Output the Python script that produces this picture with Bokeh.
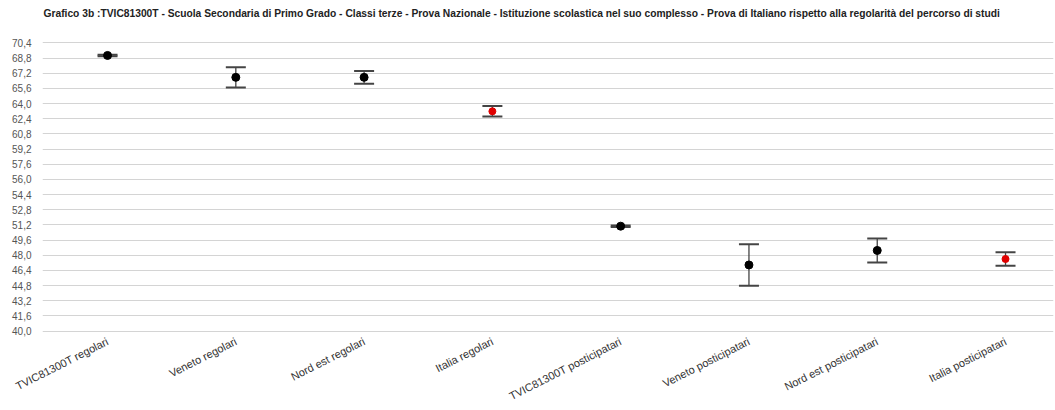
from bokeh.plotting import figure
from bokeh.models import ColumnDataSource, Whisker, TeeHead, FixedTicker, Range1d, Title
from bokeh.embed import file_html
from bokeh.resources import INLINE

categories = ["TVIC81300T regolari", "Veneto regolari", "Nord est regolari", "Italia regolari",
              "TVIC81300T posticipatari", "Veneto posticipatari", "Nord est posticipatari",
              "Italia posticipatari"]
means = [69.07, 66.76, 66.76, 63.18, 51.07, 46.98, 48.51, 47.61]
err = [0.08, 1.06, 0.67, 0.56, 0.08, 2.18, 1.26, 0.70]
is_italia = [False, False, False, True, False, False, False, True]

y_ticks = [40.0, 41.6, 43.2, 44.8, 46.4, 48.0, 49.6, 51.2, 52.8, 54.4, 56.0,
           57.6, 59.2, 60.8, 62.4, 64.0, 65.6, 67.2, 68.8, 70.4]
y_labels = ["40,0", "41,6", "43,2", "44,8", "46,4", "48,0", "49,6", "51,2", "52,8", "54,4",
            "56,0", "57,6", "59,2", "60,8", "62,4", "64,0", "65,6", "67,2", "68,8", "70,4"]

title = ("Grafico 3b :TVIC81300T - Scuola Secondaria di Primo Grado - Classi terze - Prova Nazionale - "
         "Istituzione scolastica nel suo complesso - Prova di Italiano rispetto alla regolarità del percorso di studi")

xs = list(range(len(categories)))
src = ColumnDataSource(dict(
    x=xs, y=means,
    upper=[m + e for m, e in zip(means, err)],
    lower=[m - e for m, e in zip(means, err)],
    color=["#e00000" if it else "#000000" for it in is_italia],
    size=[7 if it else 8 for it in is_italia],
))

p = figure(width=1055, height=410, output_backend="svg", toolbar_location=None,
           x_range=Range1d(-0.507, 7.374), y_range=Range1d(39.86, 70.54),
           min_border_left=42, min_border_right=2, min_border_top=41, min_border_bottom=77,
           title_location=None)
p.outline_line_color = None
p.background_fill_color = "white"

# spacer panel between frame and title (pushes title upward)
p.add_layout(Title(text=" ", text_font_size="2px", standoff=16), "above")
p.add_layout(Title(text=title, text_font="Liberation Sans", text_font_size="10.25px",
                   text_font_style="bold", text_color="#222222", align="left",
                   standoff=6, offset=1), "above")

whisk = Whisker(source=src, base="x", upper="upper", lower="lower", dimension="height",
                line_color="#444444", line_width=1.3,
                upper_head=TeeHead(size=20, line_color="#444444", line_width=2),
                lower_head=TeeHead(size=20, line_color="#444444", line_width=2))
p.add_layout(whisk)

p.scatter("x", "y", source=src, size="size", fill_color="color", line_color="color", marker="circle")

p.xgrid.grid_line_color = None
p.ygrid.grid_line_color = "#d4d4d4"
p.ygrid.grid_line_width = 1
p.ygrid.ticker = FixedTicker(ticks=y_ticks)

p.yaxis.ticker = FixedTicker(ticks=y_ticks)
p.yaxis.major_label_overrides = {t: l for t, l in zip(y_ticks, y_labels)}
p.yaxis.axis_line_color = None
p.yaxis.major_tick_line_color = None
p.yaxis.minor_tick_line_color = None
p.yaxis.major_label_text_font = "Liberation Sans"
p.yaxis.major_label_text_font_size = "10px"
p.yaxis.major_label_text_color = "#555555"
p.yaxis.major_label_standoff = 5

p.xaxis.ticker = FixedTicker(ticks=xs)
p.xaxis.major_label_overrides = {i: c for i, c in zip(xs, categories)}
p.xaxis.major_label_orientation = 0.47
p.xaxis.axis_line_color = None
p.xaxis.major_tick_line_color = None
p.xaxis.minor_tick_line_color = None
p.xaxis.major_label_text_font = "Liberation Sans"
p.xaxis.major_label_text_font_size = "11px"
p.xaxis.major_label_text_color = "#333333"
p.xaxis.major_label_standoff = 2

open("out.html", "w").write(file_html(p, INLINE))
